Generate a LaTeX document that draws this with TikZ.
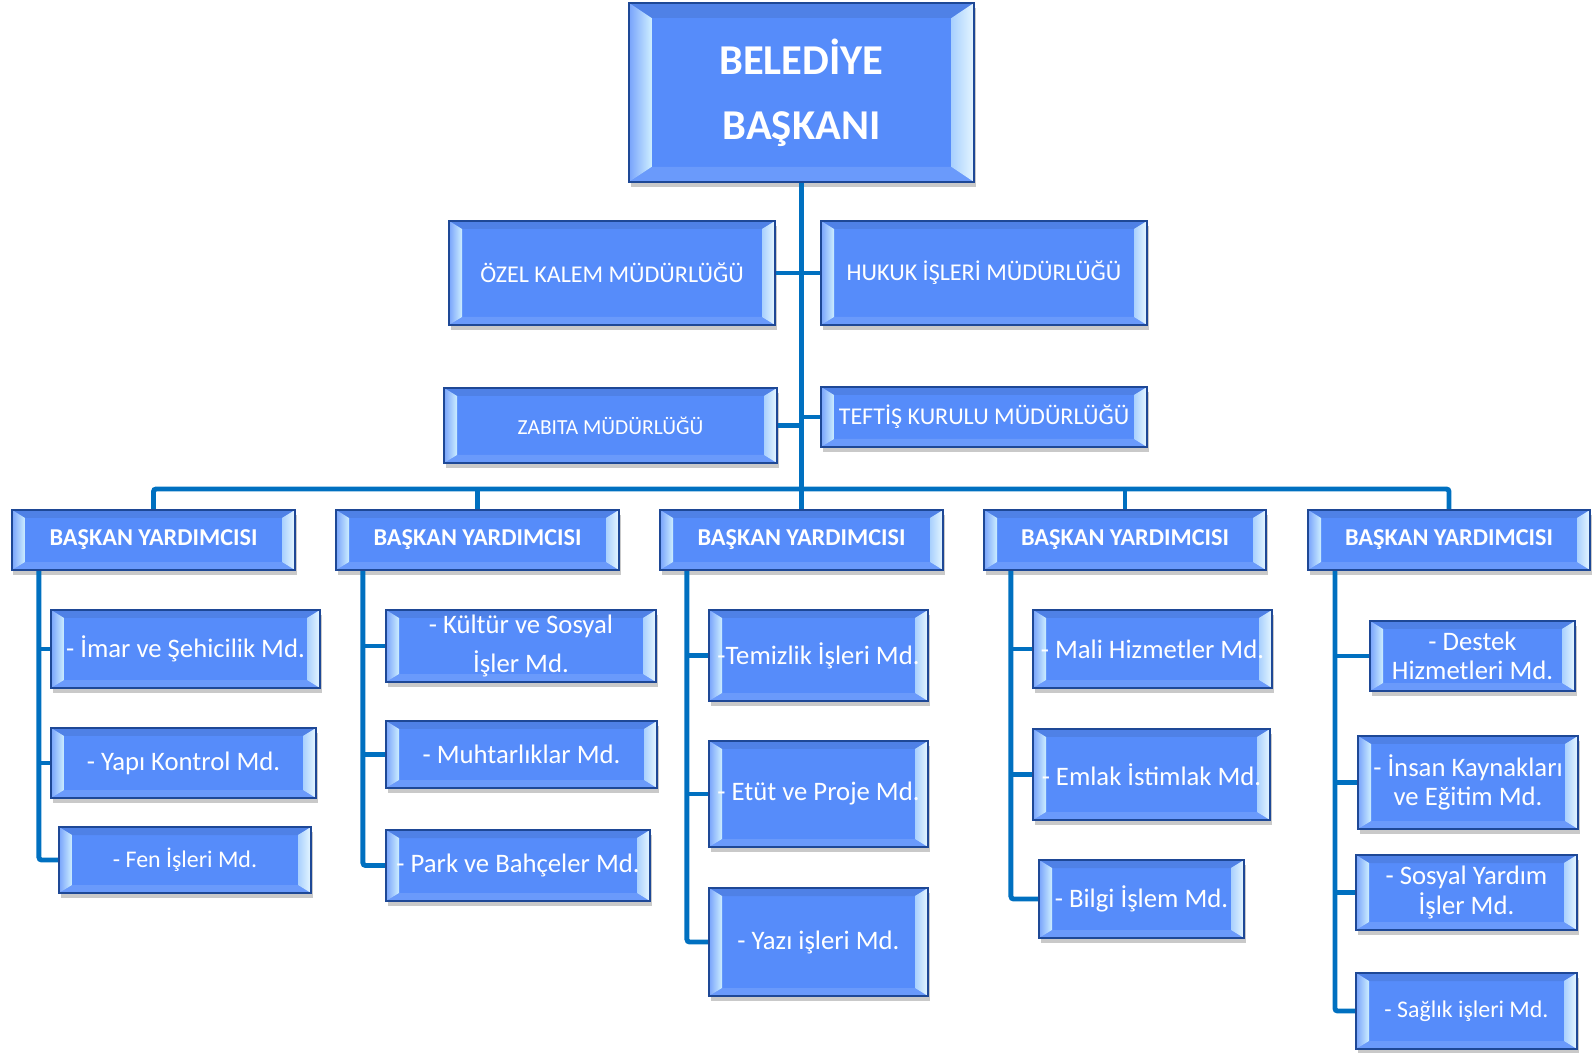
\documentclass[tikz,border=0pt]{standalone}
\usepackage{fontspec}
\setmainfont{Carlito}
\usepackage{tikz}
\usetikzlibrary{positioning,calc,shadows}

\definecolor{boxfill}{RGB}{86,140,250}
\definecolor{boxline}{RGB}{30,72,150}
\definecolor{bevlight}{RGB}{205,238,255}
\definecolor{linkblue}{RGB}{0,112,192}

\tikzset{
  bevel/.style 2 args={path picture={
      \fill[boxfill!92!black]
        (path picture bounding box.north west) -- ++(#1,-#2)
        -- ($(path picture bounding box.north east)+(-#1,-#2)$)
        -- (path picture bounding box.north east) -- cycle;
      \fill[boxfill!88!white]
        (path picture bounding box.south west) -- ++(#1,#2)
        -- ($(path picture bounding box.south east)+(-#1,#2)$)
        -- (path picture bounding box.south east) -- cycle;
      \fill[left color=boxfill!80!white, right color=bevlight]
        (path picture bounding box.north west) -- ++(#1,-#2)
        -- ($(path picture bounding box.south west)+(#1,#2)$)
        -- (path picture bounding box.south west) -- cycle;
      \fill[left color=bevlight!70!boxfill, right color=bevlight!50!white]
        (path picture bounding box.north east) -- ++(-#1,-#2)
        -- ($(path picture bounding box.south east)+(-#1,#2)$)
        -- (path picture bounding box.south east) -- cycle;
    }},
  sz/.style 2 args={minimum width=#1*0.02cm, minimum height=#2*0.02cm},
  box/.style={draw=boxline, line width=1.2pt, fill=boxfill, text=white,
    align=center, inner sep=0pt, bevel={0.26cm}{0.16cm},
    drop shadow={shadow xshift=0.03cm, shadow yshift=-0.1cm, opacity=0.3, fill=black!70}},
  chief/.style={box, bevel={0.45cm}{0.3cm}, font=\fontsize{24.2}{37}\selectfont\bfseries},
  dept/.style={box, font=\fontsize{13.7}{16}\selectfont},
  vice/.style={box, font=\fontsize{13.8}{16}\selectfont\bfseries},
  md/.style={box, font=\fontsize{15.2}{16.8}\selectfont},
  mdsmall/.style={box, font=\fontsize{13.6}{16}\selectfont},
  conn/.style={draw=linkblue, line width=2.8pt, rounded corners=1.5pt}
}

\begin{document}
\begin{tikzpicture}[x=0.02cm,y=-0.02cm]
  \useasboundingbox (0,0) rectangle (1592,1053);

  % top
  \node (BB) [chief,sz={345}{179}] at (801.5,92.5) {BELEDİYE\\BAŞKANI};

  % staff units
  \node (OK) [dept,sz={326}{104}] at (612,273) {ÖZEL KALEM MÜDÜRLÜĞÜ};
  \node (HI) [dept,sz={326}{104}] at (984,273) {HUKUK İŞLERİ MÜDÜRLÜĞÜ};
  \node (ZB) [dept,sz={333}{75},font=\fontsize{12.2}{14}\selectfont] at (610.5,425.5) {ZABITA MÜDÜRLÜĞÜ};
  \node (TK) [dept,sz={326}{60}] at (984,417) {TEFTİŞ KURULU MÜDÜRLÜĞÜ};

  % deputies
  \node (BY1) [vice,sz={283}{60}] at (153.5,540) {BAŞKAN YARDIMCISI};
  \node (BY2) [vice,sz={283}{60}] at (477.5,540) {BAŞKAN YARDIMCISI};
  \node (BY3) [vice,sz={283}{60}] at (801.5,540) {BAŞKAN YARDIMCISI};
  \node (BY4) [vice,sz={282}{60}] at (1125,540) {BAŞKAN YARDIMCISI};
  \node (BY5) [vice,sz={282}{60}] at (1449,540) {BAŞKAN YARDIMCISI};

  % directorates
  \node (M11) [md,sz={269}{78}] at (185.5,649) {- İmar ve Şehicilik Md.};
  \node (M12) [md,sz={265}{70}] at (183.5,763) {- Yapı Kontrol Md.};
  \node (M13) [mdsmall,sz={252}{66}] at (185,860) {- Fen İşleri Md.};

  \node (M21) [md,sz={270}{72}] at (521,646) {- Kültür ve Sosyal\\[5pt]İşler Md.};
  \node (M22) [md,sz={271}{67}] at (521.5,754.5) {- Muhtarlıklar Md.};
  \node (M23) [md,sz={264}{71}] at (518,865.5) {- Park ve Bahçeler Md.};

  \node (M31) [md,sz={219}{91}] at (818.5,655.5) {-Temizlik İşleri Md.};
  \node (M32) [md,sz={219}{106}] at (818.5,794) {- Etüt ve Proje Md.};
  \node (M33) [md,sz={219}{108}] at (818.5,942) {- Yazı işleri Md.};

  \node (M41) [md,sz={239}{78}] at (1152.5,649) {- Mali Hizmetler Md.};
  \node (M42) [md,sz={237}{91}] at (1151.5,774.5) {- Emlak İstimlak Md.};
  \node (M43) [md,sz={205}{78}] at (1141.5,899) {- Bilgi İşlem Md.};

  \node (M51) [md,sz={205}{70}] at (1472.5,656) {- Destek\\Hizmetleri Md.};
  \node (M52) [md,sz={220}{93}] at (1468,782.5) {- İnsan Kaynakları\\ve Eğitim Md.};
  \node (M53) [md,sz={221}{75}] at (1466.5,892.5) {- Sosyal Yardım\\İşler Md.};
  \node (M54) [mdsmall,sz={221}{76}] at (1466.5,1011) {- Sağlık işleri Md.};

  % connectors
  \coordinate (bus) at (801.5,489);
  \draw[conn] (BB) -- (BY3);
  \draw[conn] (OK) -- (HI);
  \draw[conn] (ZB.east) -- (ZB.east -| BB.south);
  \draw[conn] (TK.west) -- (TK.west -| BB.south);
  \draw[conn] (BY1.north) |- (bus) -| (BY5.north);
  \foreach \c in {2,4}
    \draw[conn] (BY\c.north) -- (BY\c.north |- bus);

  \foreach \c in {1,...,5}
    \coordinate (s\c) at ($(BY\c.south west)+(28,0)$);
  \foreach \c/\l in {1/3,2/3,3/3,4/3,5/4}
    \draw[conn] (s\c) |- (M\c\l.west);
  \foreach \c/\r in {1/1,1/2,2/1,2/2,3/1,3/2,4/1,4/2,5/1,5/2,5/3}
    \draw[conn] (M\c\r.west) -- (M\c\r.west -| s\c);
\end{tikzpicture}
\end{document}
